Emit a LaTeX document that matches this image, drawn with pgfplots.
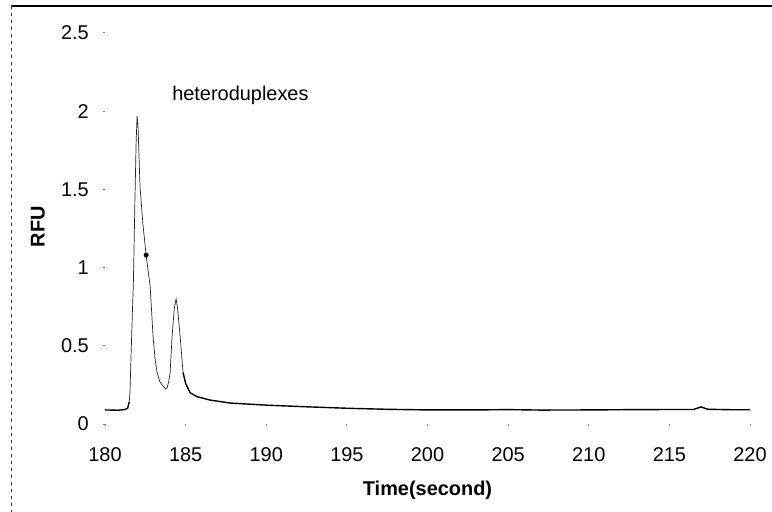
\documentclass[border=0pt]{standalone}
\usepackage{pgfplots}
\pgfplotsset{compat=1.18}
\usepackage{fontspec}
\setmainfont{Liberation Sans}
\begin{document}
\begin{tikzpicture}
\fontsize{20}{24}\selectfont
\path[use as bounding box] (0,0) rectangle (772bp,512bp);
\draw[line width=1.3bp, black] (11bp,506bp) -- (772bp,506bp);
\draw[line width=0.6bp, black!80, dash pattern=on 3bp off 4bp] (11bp,506bp) -- (11bp,0bp);
\begin{axis}[
  at={(105bp,88bp)}, anchor=south west,
  scale only axis, width=645bp, height=391bp,
  xmin=180, xmax=220, ymin=0, ymax=2.5,
  clip=false,
  axis x line*=bottom, axis y line*=left,
  axis line style={draw=none},
  xtick={180,185,...,220}, ytick={0,0.5,1,1.5,2,2.5},
  major tick length=2bp,
  tick style={draw=black!50, line width=1bp},
  tick align=outside,
  /pgf/number format/assume math mode=true,
  ticklabel style={font=\fontsize{20}{24}\selectfont},
  yticklabel style={inner sep=0pt, anchor=east, xshift=-14bp},
  xticklabel style={inner sep=0pt, anchor=north, yshift=-21bp},
  xlabel={\textbf{Time(second)}},
  ylabel={\textbf{RFU}},
  label style={font=\fontsize{20}{24}\selectfont},
  xlabel style={at={(axis description cs:0.5,-0.1688)}, anchor=center},
  ylabel style={at={(axis description cs:-0.104,0.505)}, anchor=center},
]
\addplot[black, line width=1.4bp] coordinates {
(180.0,0.09) (180.8,0.088) (181.2,0.092) (181.4,0.10) (181.5,0.14)
};
\addplot[black!85, line width=0.7bp] coordinates {
(181.5,0.14) (181.55,0.2) (181.62,0.45) (181.7,0.72) (181.76,0.9) (181.85,1.4)
(181.93,1.8) (181.99,1.97) (182.05,1.9) (182.17,1.52) (182.35,1.28) (182.55,1.08)
(182.8,0.88) (182.98,0.56) (183.1,0.42) (183.23,0.33) (183.4,0.27) (183.54,0.25)
(183.75,0.225) (183.85,0.23) (183.95,0.27) (184.04,0.33) (184.16,0.56) (184.3,0.74)
(184.41,0.80) (184.5,0.74) (184.66,0.56) (184.84,0.33)
};
\addplot[black, line width=1.4bp] coordinates {
(184.84,0.33) (185.0,0.26) (185.28,0.20) (185.7,0.175) (186.52,0.153) (187.76,0.134)
(190.1,0.12) (192.5,0.11) (195.2,0.10) (197.5,0.094) (200,0.09) (203,0.09)
(205,0.092) (207,0.089) (210,0.09) (213,0.092) (216.5,0.093) (216.96,0.109)
(217.4,0.094) (219,0.091) (220,0.091)
};
\addplot[only marks, mark=*, mark size=2.2bp, black] coordinates {(182.55,1.08)};
\node[anchor=base west, inner sep=0pt] at (axis cs:184.16,2.07) {heteroduplexes};
\end{axis}
\end{tikzpicture}
\end{document}
